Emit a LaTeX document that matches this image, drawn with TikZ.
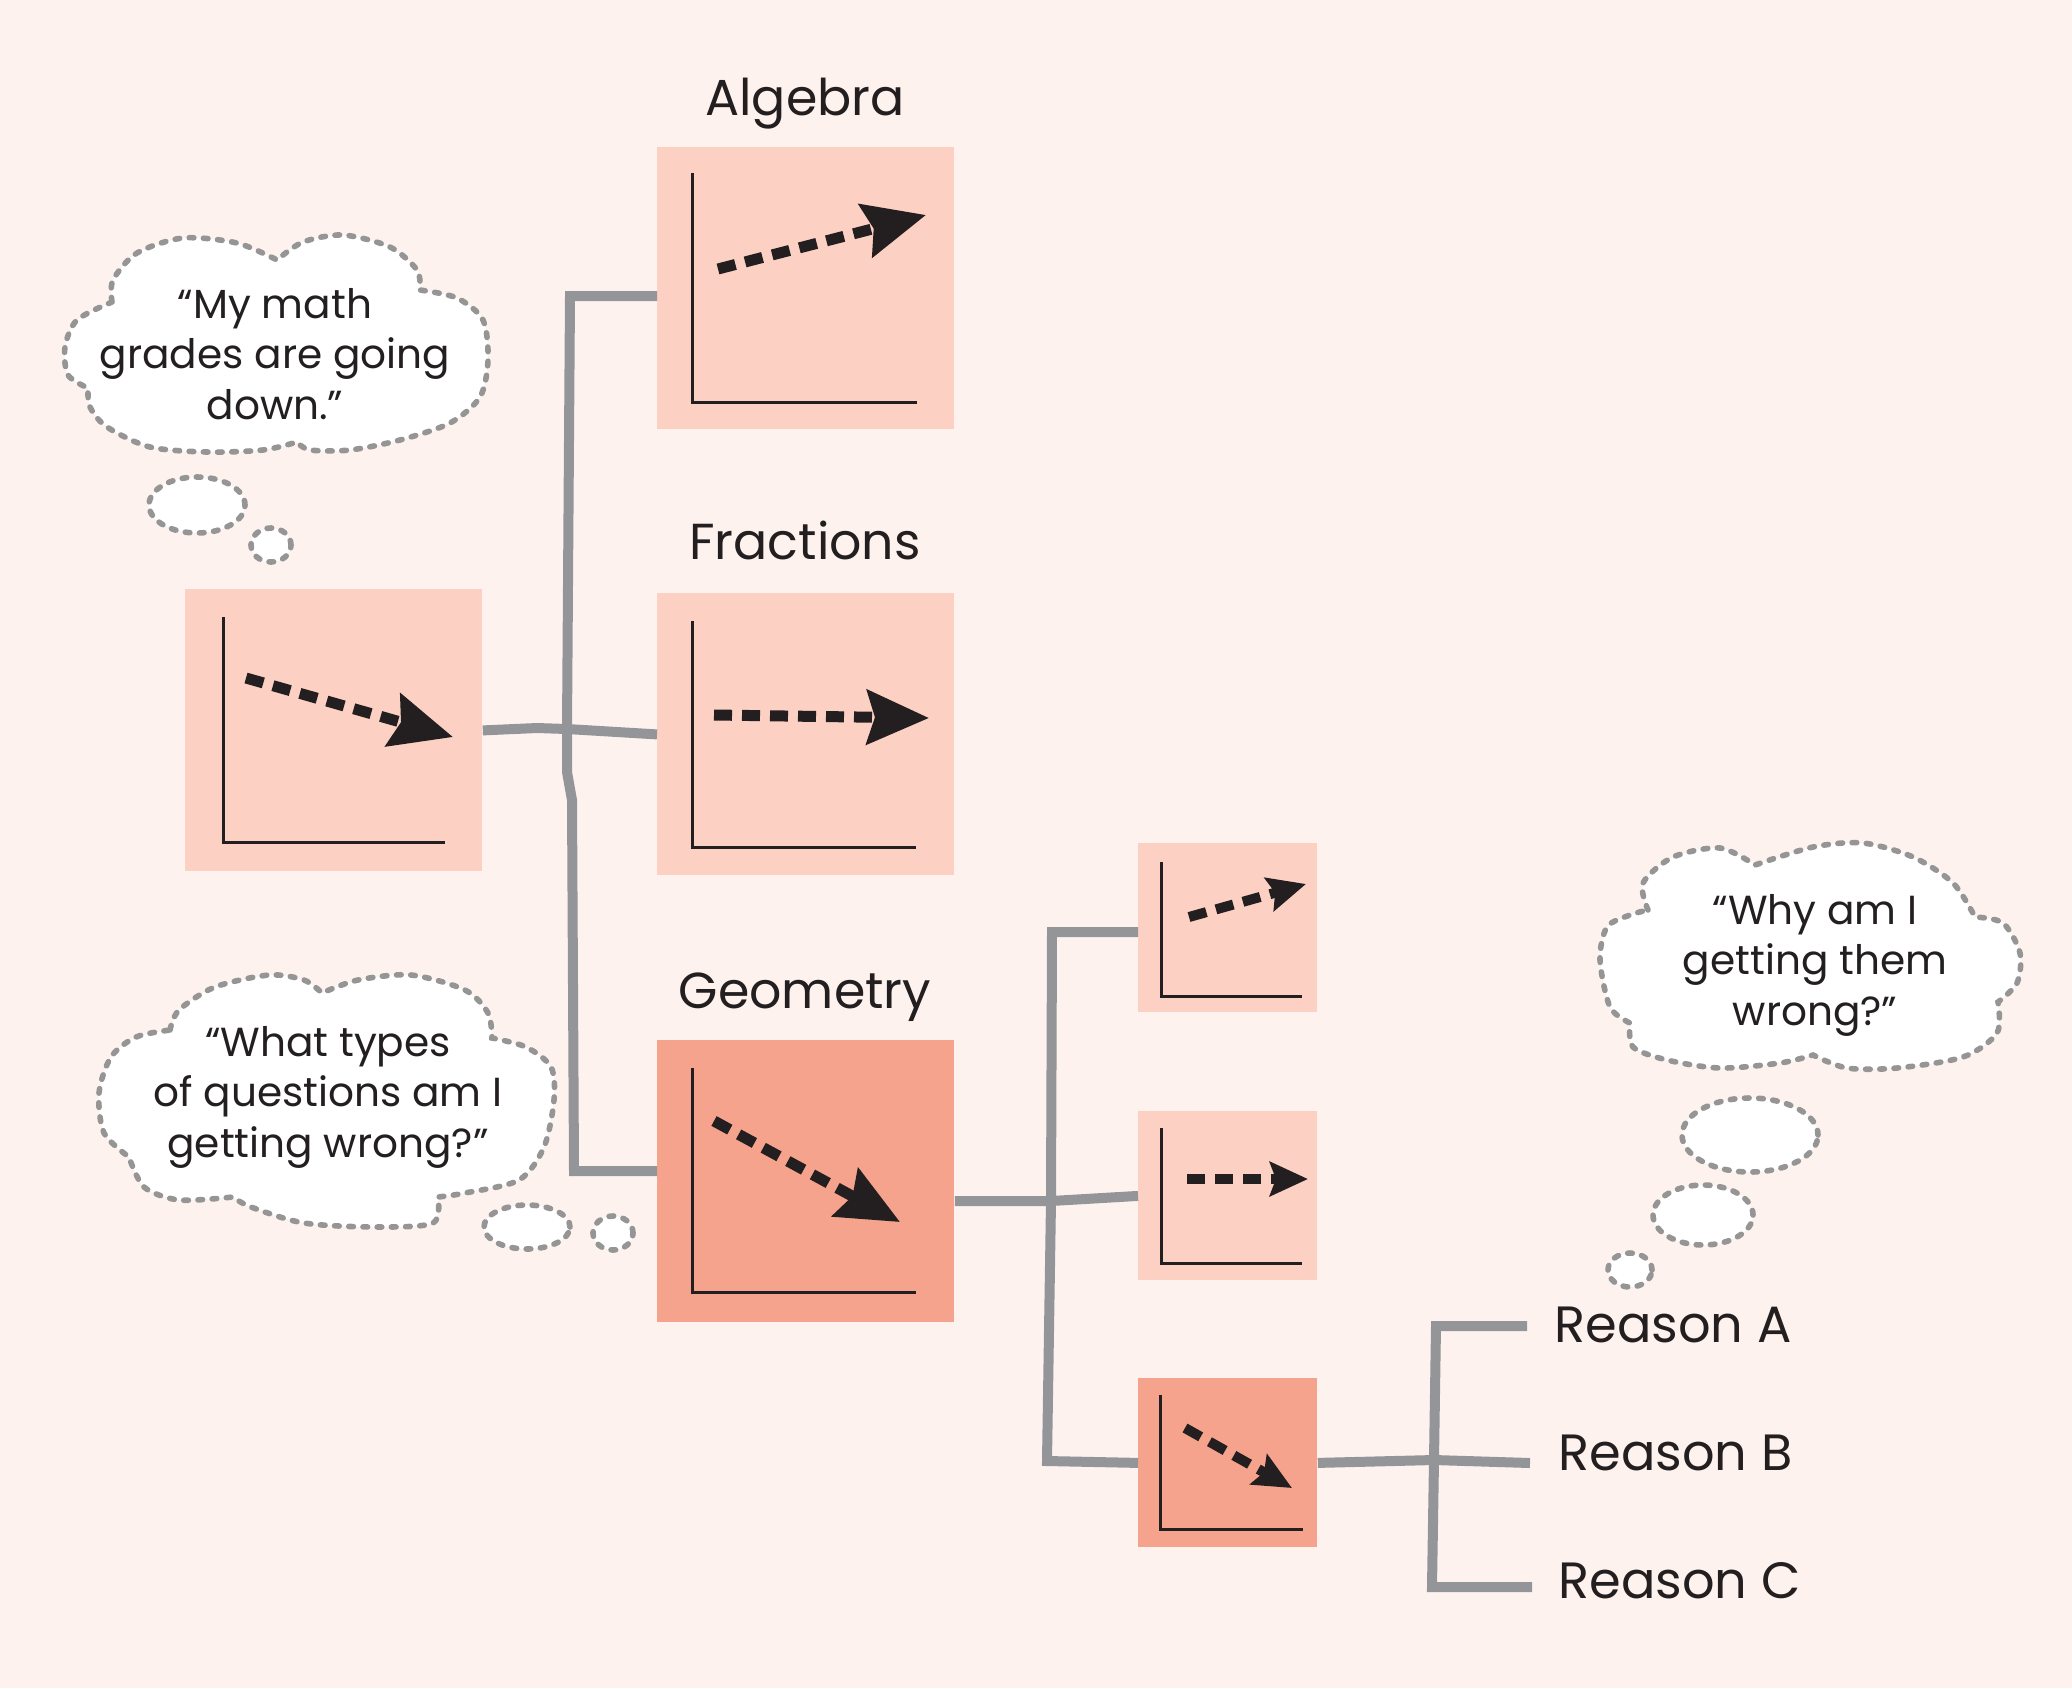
\documentclass[tikz,border=0pt]{standalone}
\usepackage{fontspec}
\setmainfont{Poppins}
\usetikzlibrary{arrows.meta}
\definecolor{bgc}{HTML}{FEF2EE}
\definecolor{lightbox}{HTML}{FDD0C4}
\definecolor{darkbox}{HTML}{F5A38D}
\definecolor{connc}{HTML}{939598}
\definecolor{inkc}{HTML}{231F20}
\definecolor{cloudc}{HTML}{959595}
\begin{document}
\begin{tikzpicture}[x=0.5pt,y=-0.5pt,
  bigbox/.style={fill=lightbox, draw=none, inner sep=0pt, anchor=north west, minimum width=148.5pt, minimum height=141pt},
  smallbox/.style={fill=lightbox, draw=none, inner sep=0pt, anchor=north west, minimum width=89.5pt, minimum height=84.5pt},
  axisline/.style={draw=inkc, line width=1.5pt, line join=miter},
  trend/.style={draw=inkc, line width=5.5pt, dash pattern=on 9pt off 5pt, -{Stealth[length=31pt,width=27pt,inset=4pt]}},
  smalltrend/.style={draw=inkc, line width=5pt, dash pattern=on 9pt off 5pt, -{Stealth[length=19pt,width=17pt,inset=3pt]}},
  conn/.style={draw=connc, line width=5pt, line join=miter, line cap=butt},
  cloudline/.style={fill=white, draw=cloudc, line width=2.8pt, dash pattern=on 2.3pt off 4.8pt, line cap=round},
  heading/.style={text=inkc, inner sep=0pt, anchor=base, font=\fontsize{25.3pt}{30pt}\selectfont},
  reason/.style={text=inkc, inner sep=0pt, anchor=base west, font=\fontsize{25.5pt}{30pt}\selectfont},
  thought/.style={text=inkc, inner sep=0pt, align=center, font=\fontsize{20.3pt}{25.25pt}\selectfont},
]
\fill[bgc] (0,0) rectangle (2072,1688);
\useasboundingbox (0,0) rectangle (2072,1688);

% ---------- boxes ----------
\node[bigbox] (lbox) at (185,589) {};
\node[bigbox] (alg) at (657,147) {};
\node[bigbox] (frac) at (657,593) {};
\node[bigbox, fill=darkbox] (geo) at (657,1040) {};
\node[smallbox] (s1) at (1138,843) {};
\node[smallbox] (s2) at (1138,1111) {};
\node[smallbox, fill=darkbox] (s3) at (1138,1378) {};

% ---------- headings ----------
\node[heading] (halg) at (805,115) {Algebra};
\node[heading] (hfrac) at (805,559) {Fractions};
\node[heading] (hgeo) at (805,1008) {Geometry};

% ---------- graphs ----------
\draw[axisline] (223,617) |- (445,842);
\draw[trend] (246,678) -- (453,737);
\draw[axisline] (692,173) |- (917,402);
\draw[trend] (718,269) -- (926,215);
\draw[axisline] (692,621) |- (916,847);
\draw[trend] (714,715) -- (929,718);
\draw[axisline] (692,1068) |- (916,1292);
\draw[trend] (714,1121) -- (900,1222);
\draw[axisline] (1161,862) |- (1302,996);
\draw[smalltrend] (1189,917) -- (1306,884);
\draw[axisline] (1161,1128) |- (1302,1263);
\draw[smalltrend] (1187,1179) -- (1308,1179);
\draw[axisline] (1160,1395) |- (1303,1529);
\draw[smalltrend] (1185,1428) -- (1292,1488);

% ---------- connectors ----------
\coordinate (t1a) at (570,296);
\coordinate (j1a) at (537,728);
\coordinate (j1) at (567,729);
\coordinate (t1k1) at (567,772);
\coordinate (t1k2) at (572,800);
\coordinate (t1b) at (574,1171);
\draw[conn] (lbox.east) -- (j1a) -- (j1) -- (frac.west);
\draw[conn] (alg.west |- t1a) -- (t1a) -- (j1) -- (t1k1) -- (t1k2) -- (t1b) -- (geo.west |- t1b);

\coordinate (t2a) at (1052,932);
\coordinate (j2) at (1051,1201);
\coordinate (t2b) at (1047,1461);
\draw[conn] (geo.east |- j2) -- (j2) -- (s2.west);
\draw[conn] (s1.west |- t2a) -- (t2a) -- (j2) -- (t2b) -- (s3.west);

\node[reason] (rA) at (1554,1342) {Reason A};
\node[reason] (rB) at (1558,1470) {Reason B};
\node[reason] (rC) at (1558,1598) {Reason C};
\coordinate (t3a) at (1436,1326);
\coordinate (j3) at (1434,1460);
\coordinate (t3b) at (1432,1587);
\coordinate (eA) at (1527,1326);
\coordinate (eB) at (1530,1463);
\coordinate (eC) at (1532,1587);
\draw[conn] (s3.east) -- (j3) -- (eB);
\draw[conn] (eA) -- (t3a) -- (j3) -- (t3b) -- (eC);

% ---------- cloud 1 ----------
\draw[cloudline]
  plot[smooth] coordinates {(112,302) (113,280) (137,253) (183,238) (237,243) (277,260)}
  -- plot[smooth] coordinates {(277,260) (303,242) (343,235) (390,247) (417,270) (420,290)}
  -- plot[smooth] coordinates {(420,290) (457,298) (483,320) (488,360) (480,397) (450,423) (400,440) (350,450) (310,450) (297,442)}
  -- plot[smooth] coordinates {(297,442) (263,450) (207,452) (150,447) (107,427) (90,407) (88,388)}
  -- plot[smooth] coordinates {(88,388) (68,375) (65,347) (77,320) (112,302)}
  -- cycle;
\draw[cloudline] (197,505) ellipse [x radius=24pt, y radius=14pt];
\draw[cloudline] (271,545) ellipse [x radius=10pt, y radius=8.5pt];
\node[thought] (c1) at (275,354) {“My math\\grades are going\\down.”};

% ---------- cloud 2 ----------
\draw[cloudline]
  plot[smooth] coordinates {(170,1030) (179,1010) (215,987) (269,975) (304,980) (322,993)}
  -- plot[smooth] coordinates {(322,993) (358,980) (411,975) (465,990) (488,1013) (492,1038)}
  -- plot[smooth] coordinates {(492,1038) (526,1047) (551,1067) (554,1100) (544,1147) (519,1180) (465,1193) (438,1197)}
  -- plot[smooth] coordinates {(438,1197) (433,1223) (376,1227) (304,1223) (251,1207) (233,1197)}
  -- plot[smooth] coordinates {(233,1197) (179,1200) (144,1187) (129,1157)}
  -- plot[smooth] coordinates {(129,1157) (104,1133) (99,1093) (111,1057) (136,1037) (170,1030)}
  -- cycle;
\draw[cloudline] (527,1227) ellipse [x radius=21.5pt, y radius=11pt];
\draw[cloudline] (613,1233) ellipse [x radius=10pt, y radius=8.5pt];
\node[thought] (c2) at (328,1097) {“What types\\of questions am I\\getting wrong?”};

% ---------- cloud 3 ----------
\draw[cloudline]
  plot[smooth] coordinates {(1648,910) (1643,883) (1673,857) (1720,848) (1755,865)}
  -- plot[smooth] coordinates {(1755,865) (1813,847) (1863,843) (1913,857) (1953,883) (1975,917)}
  -- plot[smooth] coordinates {(1975,917) (2003,923) (2020,953) (2017,983) (1998,1002)}
  -- plot[smooth] coordinates {(1998,1002) (1997,1033) (1963,1057) (1897,1068) (1847,1068) (1813,1055)}
  -- plot[smooth] coordinates {(1813,1055) (1780,1063) (1720,1068) (1667,1060) (1633,1047) (1630,1023)}
  -- plot[smooth] coordinates {(1630,1023) (1610,1007) (1600,960) (1607,927) (1630,915) (1648,910)}
  -- cycle;
\draw[cloudline] (1750,1135) ellipse [x radius=34pt, y radius=18.5pt];
\draw[cloudline] (1703,1215) ellipse [x radius=25pt, y radius=15pt];
\draw[cloudline] (1630,1270) ellipse [x radius=11pt, y radius=8.5pt];
\node[thought] (c3) at (1815,965) {“Why am I\\getting them\\wrong?”};
\end{tikzpicture}
\end{document}
